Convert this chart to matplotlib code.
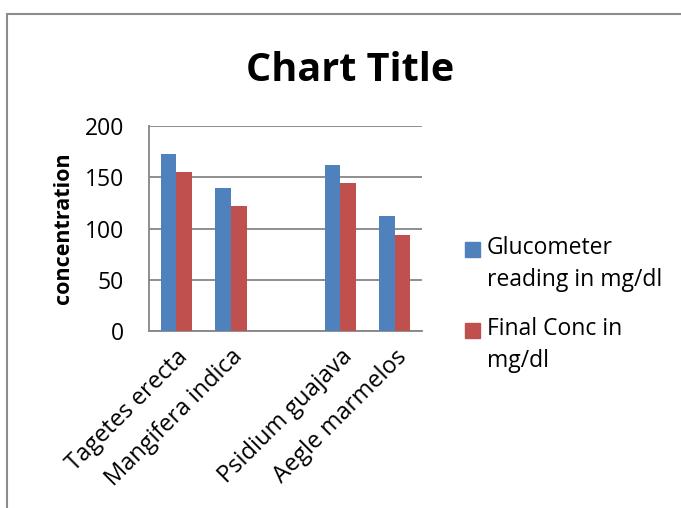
import matplotlib
matplotlib.use("Agg")
import matplotlib.pyplot as plt
from matplotlib.patches import Rectangle
import numpy as np

plt.rcParams['font.family'] = ['Open Sans', 'DejaVu Sans']

categories = ["Tagetes erecta", "Mangifera indica", "", "Psidium guajava", "Aegle marmelos"]
glucometer = [173, 140, np.nan, 162, 112]
final_conc = [155, 122, np.nan, 144, 94]
series_names = ["Glucometer\nreading in mg/dl", "Final Conc in\nmg/dl"]
colors = ["#4F81BD", "#C0504D"]

W, H = 681, 508
fig = plt.figure(figsize=(W / 100, H / 100), dpi=100)
ax = fig.add_axes([149 / W, (H - 331) / H, 273 / W, 205 / H])

# outer chart frame (runs off the right/bottom edge like the screenshot)
fig.patches.append(Rectangle((7 / W, -0.1), 1.2, (H - 14) / H + 0.1,
                             transform=fig.transFigure, fill=False,
                             edgecolor="#8c8c8c", lw=1.5))

x = np.arange(len(categories))
w = 1 / 3.5
ax.bar(x - w / 2, glucometer, w, color=colors[0], zorder=3)
ax.bar(x + w / 2, final_conc, w, color=colors[1], zorder=3)

ax.set_xlim(-0.5, len(categories) - 0.5)
ax.set_ylim(0, 200)
ax.set_yticks([0, 50, 100, 150, 200])
ax.grid(axis="y", color="#868686", lw=1.3, zorder=0)
for s in ["top", "right"]:
    ax.spines[s].set_visible(False)
for s in ["left", "bottom"]:
    ax.spines[s].set_color("#868686")
    ax.spines[s].set_linewidth(1.3)
ax.tick_params(axis="y", length=0, labelsize=16.5, pad=18)
ax.tick_params(axis="x", length=0, labelsize=17, pad=10)
ax.set_xticks(x)
ax.set_xticklabels(categories, rotation=45, ha="right", rotation_mode="anchor")
ax.set_ylabel("concentration", fontsize=15.5, fontweight="bold", labelpad=8)

fig.text(350 / W, (H - 81) / H, "Chart Title", fontsize=28.5,
         fontweight="bold", ha="center", va="baseline")

# legend, drawn by hand so the swatch sits on the first text line
for i, (name, c) in enumerate(zip(series_names, colors)):
    top = 242 + i * 81
    fig.patches.append(Rectangle((465 / W, (H - top - 15) / H), 15 / W, 15 / H,
                                 transform=fig.transFigure, color=c))
    fig.text(487 / W, (H - top + 6) / H, name, fontsize=16.5, va="top",
             ha="left", linespacing=1.45)

fig.savefig("out.png", dpi=100)
